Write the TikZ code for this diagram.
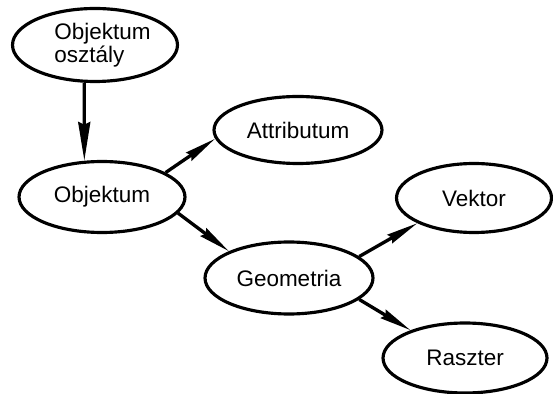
\documentclass[tikz,border=0pt]{standalone}
\usepackage{fontspec}
\setmainfont{Liberation Sans}
\usetikzlibrary{arrows.meta,shapes.geometric}

\begin{document}
\begin{tikzpicture}[x=0.02cm,y=-0.02cm,
font=\fontsize{12.8}{13.2}\selectfont,
bubble/.style={draw,ellipse,line width=1.8pt,inner sep=0pt,align=left},
oneway/.style={-{Stealth[length=18pt,width=5.5pt,inset=1.5pt]},line width=1.9pt}]
    % Frame
    \useasboundingbox (0,0) rectangle (553,394);

    % Draw bubbles
    \node[bubble,minimum width=3.3cm,minimum height=1.46cm] (klasse) at (95,45)
        {\hspace*{3mm}Objektum\\\hspace*{3mm}osztály};
    \node[bubble,minimum width=3.32cm,minimum height=1.42cm] (objektum) at (102,197) {Objektum};
    \node[bubble,minimum width=3.36cm,minimum height=1.34cm] (attributum) at (298,130) {Attributum};
    \node[bubble,minimum width=3.36cm,minimum height=1.44cm] (geometria) at (289,278) {Geometria};
    \node[bubble,minimum width=3.1cm,minimum height=1.38cm] (vektor) at (474,198) {Vektor};
    \node[bubble,minimum width=3.28cm,minimum height=1.4cm] (raszter) at (465,358) {Raszter};

    % Draw arrows
    \draw[oneway,-{Stealth[length=22pt,width=6.8pt,inset=1.5pt]}] (klasse.254) -- (objektum.116);
    \draw[oneway] (objektum.21) -- (attributum.186);
    \draw[oneway] (objektum.348) -- (geometria.156);
    \draw[oneway] (geometria.17) -- (vektor.204);
    \draw[oneway] (geometria.343) -- (raszter.153);

\end{tikzpicture}
\end{document}
